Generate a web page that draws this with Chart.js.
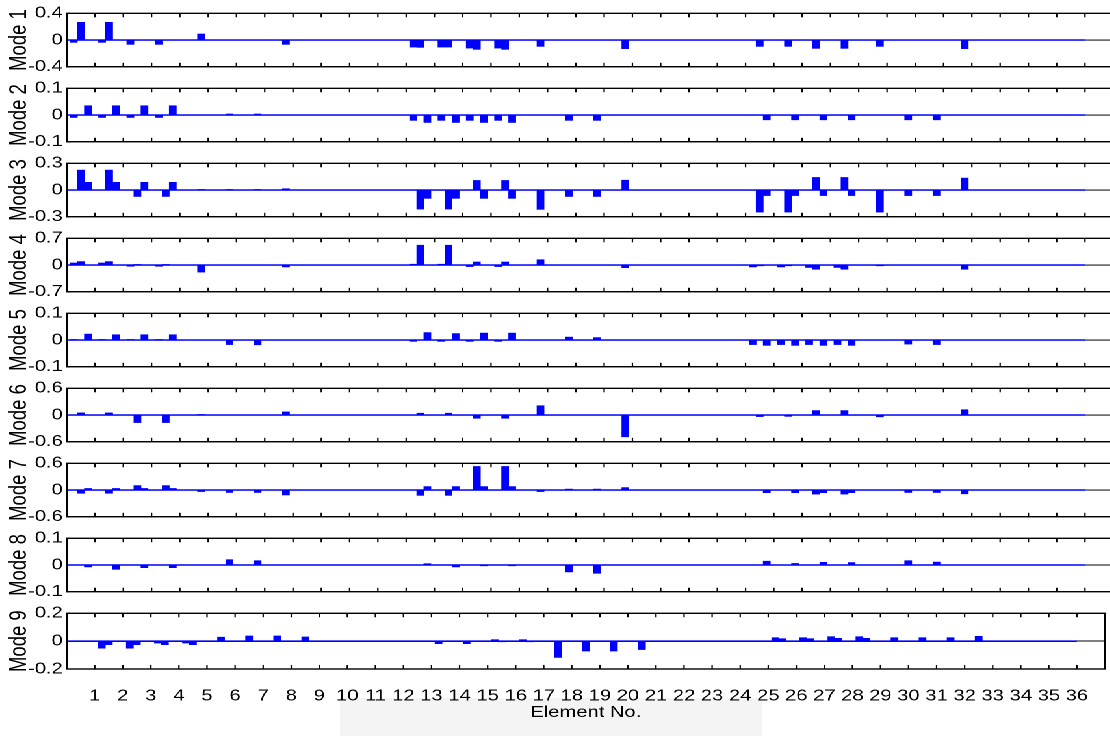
<!DOCTYPE html>
<html>
<head>
<meta charset="utf-8">
<title>Mode shapes</title>
<script src="https://cdn.jsdelivr.net/npm/chart.js@4.4.1/dist/chart.umd.min.js"></script>
<style>
    html, body { margin: 0; padding: 0; background: #fff; width: 1110px; height: 736px; overflow: hidden; }
    #stage { position: absolute; left: 0; top: 0; transform: scaleX(1.3); transform-origin: 0 0; }
    #stage canvas { position: absolute; left: 0; }
    #stamp { position: absolute; left: 340px; top: 698px; width: 422px; height: 38px; background: #f4f4f4; }
</style>
</head>
<body>
<div id="stamp"></div>
<div id="stage"></div>
<script>
// DOF index along the beam (4 per element) and modal amplitude for each mode
const mode1Dof = [1, 2, 5, 6, 9, 13, 19, 31, 49, 50, 53, 54, 57, 58, 61, 62, 67, 79, 98, 102, 106, 110, 115, 127];
const mode1Amp = [-0.035, 0.265, -0.035, 0.265, -0.065, -0.065, 0.09, -0.065, -0.105, -0.11, -0.105, -0.105, -0.12, -0.14, -0.12, -0.14, -0.095, -0.13, -0.095, -0.095, -0.125, -0.125, -0.095, -0.13];

const mode2Dof = [1, 3, 5, 7, 9, 11, 13, 15, 23, 27, 49, 51, 53, 55, 57, 59, 61, 63, 71, 75, 99, 103, 107, 111, 119, 123];
const mode2Amp = [-0.009, 0.035, -0.009, 0.035, -0.009, 0.035, -0.009, 0.035, 0.004, 0.004, -0.02, -0.028, -0.02, -0.028, -0.02, -0.028, -0.02, -0.028, -0.02, -0.02, -0.018, -0.018, -0.018, -0.018, -0.018, -0.018];

const mode3Dof = [2, 3, 6, 7, 10, 11, 14, 15, 19, 23, 27, 31, 50, 51, 54, 55, 58, 59, 62, 63, 67, 71, 75, 79, 98, 99, 102, 103, 106, 107, 110, 111, 115, 119, 123, 127];
const mode3Amp = [0.224, 0.086, 0.224, 0.086, -0.072, 0.086, -0.072, 0.086, 0.003, 0.005, 0.005, 0.014, -0.214, -0.093, -0.214, -0.093, 0.107, -0.093, 0.107, -0.093, -0.217, -0.072, -0.072, 0.11, -0.248, -0.062, -0.248, -0.062, 0.141, -0.062, 0.141, -0.062, -0.248, -0.062, -0.062, 0.134];

const mode4Dof = [1, 2, 5, 6, 9, 10, 13, 14, 19, 31, 49, 50, 53, 54, 57, 58, 61, 62, 67, 79, 97, 98, 101, 102, 105, 106, 109, 110, 115, 127];
const mode4Amp = [0.055, 0.09, 0.055, 0.09, -0.03, 0.01, -0.03, 0.01, -0.185, -0.05, 0.02, 0.52, 0.02, 0.52, -0.04, 0.08, -0.04, 0.08, 0.14, -0.07, -0.05, -0.02, -0.05, -0.02, -0.065, -0.11, -0.065, -0.11, -0.02, -0.11];

const mode5Dof = [1, 3, 5, 7, 9, 11, 13, 15, 23, 27, 49, 51, 53, 55, 57, 59, 61, 63, 71, 75, 97, 99, 101, 103, 105, 107, 109, 111, 119, 123];
const mode5Amp = [0.002, 0.022, 0.002, 0.02, 0.002, 0.02, 0.002, 0.02, -0.017, -0.018, -0.005, 0.028, -0.005, 0.024, -0.005, 0.026, -0.005, 0.026, 0.011, 0.009, -0.017, -0.02, -0.017, -0.02, -0.017, -0.02, -0.017, -0.02, -0.015, -0.017];

const mode6Dof = [2, 6, 10, 14, 19, 31, 50, 54, 58, 62, 67, 79, 98, 102, 106, 110, 115, 127];
const mode6Amp = [0.05, 0.05, -0.17, -0.17, 0.01, 0.07, 0.04, 0.04, -0.07, -0.07, 0.21, -0.49, -0.035, -0.03, 0.1, 0.1, -0.04, 0.12];

const mode7Dof = [2, 3, 6, 7, 10, 11, 14, 15, 19, 23, 27, 31, 50, 51, 54, 55, 58, 59, 62, 63, 67, 71, 75, 79, 99, 103, 106, 107, 110, 111, 119, 123, 127];
const mode7Amp = [-0.07, 0.035, -0.07, 0.035, 0.1, 0.035, 0.1, 0.035, -0.035, -0.055, -0.055, -0.11, -0.12, 0.076, -0.12, 0.076, 0.53, 0.076, 0.53, 0.076, -0.035, 0.02, 0.02, 0.055, -0.06, -0.06, -0.09, -0.06, -0.09, -0.06, -0.055, -0.055, -0.085];

const mode8Dof = [3, 7, 11, 15, 23, 27, 51, 55, 59, 63, 71, 75, 99, 103, 107, 111, 119, 123];
const mode8Amp = [-0.007, -0.016, -0.01, -0.01, 0.02, 0.016, 0.005, -0.007, -0.003, -0.003, -0.026, -0.031, 0.014, 0.006, 0.01, 0.009, 0.016, 0.011];

const mode9Dof = [5, 6, 9, 10, 13, 14, 17, 18, 22, 26, 30, 34, 53, 57, 61, 62, 65, 66, 70, 74, 78, 82, 101, 102, 105, 106, 109, 110, 113, 114, 118, 122, 126, 130];
const mode9Amp = [-0.05, -0.025, -0.05, -0.025, -0.014, -0.025, -0.014, -0.025, 0.028, 0.037, 0.037, 0.03, -0.018, -0.018, 0.01, -0.005, 0.01, -0.005, -0.117, -0.071, -0.071, -0.06, 0.025, 0.018, 0.025, 0.018, 0.032, 0.02, 0.032, 0.02, 0.025, 0.025, 0.025, 0.035];

const modeLabels = ['Mode 1', 'Mode 2', 'Mode 3', 'Mode 4', 'Mode 5', 'Mode 6', 'Mode 7', 'Mode 8', 'Mode 9'];
const yLimits = [0.4, 0.1, 0.3, 0.7, 0.1, 0.6, 0.6, 0.1, 0.2];
const elementLabels = ['1', '2', '3', '4', '5', '6', '7', '8', '9', '10', '11', '12', '13', '14', '15', '16', '17', '18',
    '19', '20', '21', '22', '23', '24', '25', '26', '27', '28', '29', '30', '31', '32', '33', '34', '35', '36'];
const dofPerElement = 4;

const modes = [
    [mode1Dof, mode1Amp], [mode2Dof, mode2Amp], [mode3Dof, mode3Amp],
    [mode4Dof, mode4Amp], [mode5Dof, mode5Amp], [mode6Dof, mode6Amp],
    [mode7Dof, mode7Amp], [mode8Dof, mode8Amp], [mode9Dof, mode9Amp]
];

const SX = 1.3;                 // the figure is drawn narrow and stretched sideways
const canvasW = 860;
const axisLeft = 66.7 / SX;
const panelH = 58;
const family = 'Liberation Sans, Arial, sans-serif';
const tickFont = { family: family, size: 15.5 };
const titleFont = { family: family, size: 18.5 };

// box around each panel plus inward tick marks on top, bottom and left
const frame = {
    id: 'frame',
    afterDraw(chart) {
        const { ctx, chartArea: a, scales } = chart;
        ctx.save();
        ctx.strokeStyle = '#000';
        ctx.lineWidth = 1.4;
        ctx.strokeRect(a.left, a.top, a.right - a.left, a.bottom - a.top);
        ctx.lineWidth = 1.1;
        ctx.beginPath();
        for (let k = 1; k <= 37; k++) {
            const x = scales.x.getPixelForValue(k);
            ctx.moveTo(x, a.top); ctx.lineTo(x, a.top + 4);
            ctx.moveTo(x, a.bottom); ctx.lineTo(x, a.bottom - 4);
        }
        [scales.y.max, scales.y.min].forEach(v => {
            const y = scales.y.getPixelForValue(v);
            ctx.moveTo(a.left, y); ctx.lineTo(a.left + 2.6, y);
        });
        ctx.stroke();
        ctx.restore();
    }
};

const stage = document.getElementById('stage');

modes.forEach(([dof, amp], i) => {
    const last = i === modes.length - 1;
    const lim = yLimits[i];
    const top = 10.5 + 75 * i;
    const h = 10 + panelH + (last ? 53 : 10);

    const cv = document.createElement('canvas');
    cv.style.top = (top - 10) + 'px';
    cv.style.width = canvasW + 'px';
    cv.style.height = h + 'px';
    cv.width = canvasW;
    cv.height = h;
    stage.appendChild(cv);

    new Chart(cv, {
        type: 'bar',
        data: {
            datasets: [{
                type: 'bar',
                data: dof.map((d, k) => ({ x: d / dofPerElement, y: amp[k] })),
                backgroundColor: '#0000ff',
                barThickness: 6.8 / SX,
                grouped: false,
                order: 1
            }, {
                type: 'line',
                data: [{ x: 0, y: 0 }, { x: 36, y: 0 }],
                borderColor: '#0000ff',
                borderWidth: 1.6,
                pointRadius: 0,
                order: 2
            }]
        },
        options: {
            responsive: false,
            animation: false,
            devicePixelRatio: 2,
            layout: { padding: { top: 10, bottom: last ? 0 : 10, left: 0, right: 3.6 } },
            plugins: { legend: { display: false }, tooltip: { enabled: false } },
            scales: {
                x: {
                    type: 'linear',
                    offset: false,
                    min: 0,
                    max: 37,
                    grid: { display: false, offset: false },
                    border: { display: false },
                    ticks: {
                        display: last,
                        stepSize: 1,
                        autoSkip: false,
                        maxRotation: 0,
                        padding: 10,
                        font: tickFont,
                        color: '#000',
                        callback: v => elementLabels[v - 1] || ''
                    },
                    title: {
                        display: last,
                        text: 'Element No.',
                        font: tickFont,
                        color: '#000',
                        padding: { top: 0, bottom: 0 }
                    },
                    afterFit: s => { s.height = last ? 53 : 0; }
                },
                y: {
                    min: -lim,
                    max: lim,
                    afterBuildTicks: s => { s.ticks = [-lim, 0, lim].map(v => ({ value: v })); },
                    grid: {
                        drawTicks: false,
                        color: c => c.tick && c.tick.value === 0 ? '#000' : 'rgba(0,0,0,0)',
                        lineWidth: 1
                    },
                    border: { display: false },
                    ticks: {
                        padding: 3,
                        font: tickFont,
                        color: '#000',
                        callback: v => v === 0 ? '0' : String(v)
                    },
                    title: {
                        display: true,
                        text: modeLabels[i],
                        font: titleFont,
                        color: '#000',
                        padding: { top: 4, bottom: 0 }
                    },
                    afterFit: s => { s.width = axisLeft; }
                }
            }
        },
        plugins: [frame]
    });
});
</script>
</body>
</html>
